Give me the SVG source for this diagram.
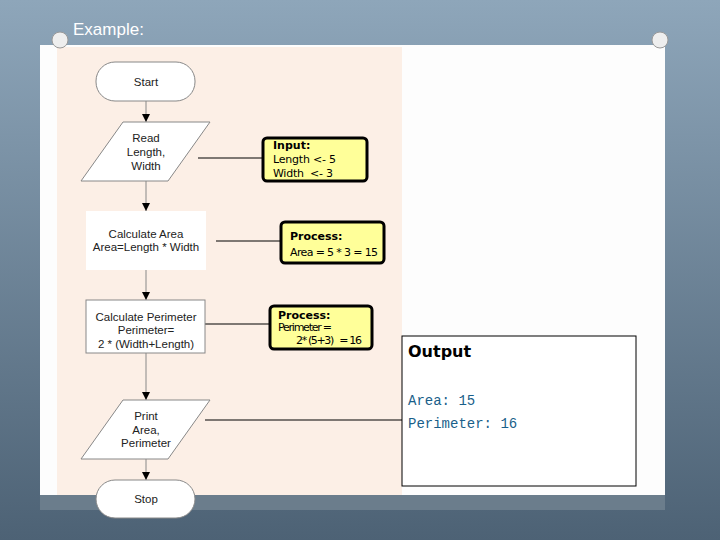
<svg xmlns="http://www.w3.org/2000/svg" width="720" height="540" viewBox="0 0 720 540">
<style>
.fc{fill:#fff;stroke:#888;stroke-width:1}
.t{font-family:"Liberation Sans",Arial,sans-serif;font-size:11.5px;fill:#222;text-anchor:middle}
.note{fill:#ffff99;stroke:#000;stroke-width:3}
.nb{font-family:"DejaVu Sans",sans-serif;font-size:11px;font-weight:bold;fill:#000}
.nt{font-family:"DejaVu Sans",sans-serif;font-size:11px;fill:#000}
.flow{stroke:#888;stroke-width:1;fill:none}
.link{stroke:#000;stroke-width:1;fill:none}
.mono{font-family:"Liberation Mono",monospace;font-size:14px;fill:#1a5f8a}
</style>
<defs>
<marker id="ar" markerWidth="8" markerHeight="8" refX="8" refY="4" orient="auto" markerUnits="userSpaceOnUse" viewBox="0 0 8 8"><path d="M0,0 L8,4 L0,8 Z" fill="#000"/></marker>
<linearGradient id="bg" x1="0" y1="0" x2="0" y2="1"><stop offset="0" stop-color="#8ea6ba"/><stop offset="1" stop-color="#4d6275"/></linearGradient>
</defs>
<rect width="720" height="540" fill="url(#bg)"/>
<rect x="40" y="45" width="625" height="465" fill="#6b7d8c"/>
<rect x="40" y="45" width="625" height="450" fill="#fdfdfd"/>
<rect x="57" y="47" width="345" height="448" fill="#fcefe6"/>
<circle cx="60" cy="40" r="8" fill="#eee" stroke="#999"/>
<circle cx="660" cy="40" r="8" fill="#eee" stroke="#999"/>
<text x="73" y="35" font-family="Liberation Sans,Arial,sans-serif" font-size="17" fill="#fff">Example:</text>
<g id="connectors">
<path class="flow" d="M146,101V122" marker-end="url(#ar)"/>
<path class="flow" d="M146,181V211" marker-end="url(#ar)"/>
<path class="flow" d="M146,270V300" marker-end="url(#ar)"/>
<path class="flow" d="M146,353V400" marker-end="url(#ar)"/>
<path class="flow" d="M146,459V480" marker-end="url(#ar)"/>
<path class="link" d="M198,158H263M216,241H281M205,324H270M205,420H402"/>
</g>
<g id="start"><rect class="fc" x="96" y="62" width="99" height="39" rx="19"/><text class="t" x="146" y="86">Start</text></g>
<g id="read"><path class="fc" d="M123,122H210L168,181H81Z"/><text class="t" x="146" y="142">Read</text><text class="t" x="146" y="156">Length,</text><text class="t" x="146" y="170">Width</text></g>
<g id="input"><rect class="note" x="263" y="138" width="104" height="43" rx="4"/><text class="nb" x="273" y="149">Input:</text><text class="nt" x="273" y="163" textLength="63">Length &lt;- 5</text><text class="nt" x="273" y="177" textLength="60" xml:space="preserve">Width  &lt;- 3</text></g>
<g id="calcarea"><rect x="86" y="211" width="120" height="59" fill="#fff"/><text class="t" x="146" y="238">Calculate Area</text><text class="t" x="146" y="251">Area=Length * Width</text></g>
<g id="proc1"><rect class="note" x="281" y="222" width="103" height="41" rx="4"/><text class="nb" x="290" y="240">Process:</text><text class="nt" x="290" y="256" textLength="88">Area = 5 * 3 = 15</text></g>
<g id="calcper"><rect class="fc" x="86" y="300" width="119" height="53"/><text class="t" x="146" y="321">Calculate Perimeter</text><text class="t" x="146" y="334">Perimeter=</text><text class="t" x="146" y="348">2 * (Width+Length)</text></g>
<g id="proc2"><rect class="note" x="270" y="306" width="102" height="43" rx="4"/><text class="nb" x="278" y="319">Process:</text><text class="nt" x="278" y="331" font-size="9" textLength="54">Perimeter =</text><text class="nt" x="296" y="344" font-size="9" textLength="66" xml:space="preserve">2* (5+3)   = 16</text></g>
<g id="print"><path class="fc" d="M123,400H210L168,459H81Z"/><text class="t" x="146" y="420">Print</text><text class="t" x="146" y="434">Area,</text><text class="t" x="146" y="447">Perimeter</text></g>
<g id="stop"><rect class="fc" x="96" y="480" width="99" height="38" rx="19"/><text class="t" x="146" y="503">Stop</text></g>
<g id="output"><rect x="402" y="336" width="234" height="150" fill="#fff" stroke="#000"/><text x="408" y="357" font-family="DejaVu Sans,sans-serif" font-size="16" font-weight="bold" fill="#000">Output</text><text class="mono" x="408" y="405">Area: 15</text><text class="mono" x="408" y="428">Perimeter: 16</text></g>
</svg>
